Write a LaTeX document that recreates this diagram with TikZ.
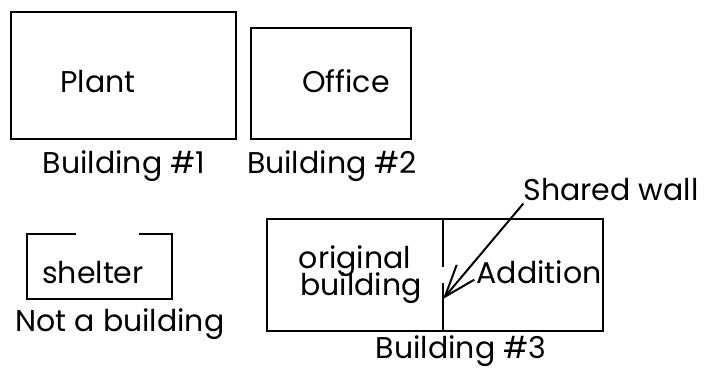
\documentclass[tikz,border=0pt]{standalone}
\usepackage{fontspec}
\setmainfont{Poppins}
\usetikzlibrary{arrows.meta}
\tikzset{
  wall/.style={line width=2.6pt},
  lbl/.style={font=\fontsize{30}{32}\selectfont, inner sep=0pt, anchor=base},
}
\begin{document}
\begin{tikzpicture}[x=1pt, y=-1pt]
  \useasboundingbox (0,0) rectangle (705,368);
  % building 1 and 2
  \draw [wall] (11,12) rectangle (236,139);
  \draw [wall] (251,28) rectangle (411,139);
  \node [lbl] (plant) at (98,92) {Plant};
  \node [lbl] (office) at (346,92) {Office};
  \node [lbl] (bldg1) at (124,173) {Building \#1};
  \node [lbl] (bldg2) at (332,173) {Building \#2};
  % shelter, open at the top
  \draw [wall] (76,234) -- (27,234) -- (27,299) -- (172,299) -- (172,234) -- (139,234);
  \node [lbl] (shelter) at (93,283) {shelter};
  \node [lbl] (notbldg) at (120,331) {Not a building};
  % building 3 with addition
  \draw [wall] (267,219) rectangle (603,331);
  \draw [wall] (443,219) -- (443,267);
  \draw [wall] (443,283) -- (443,331);
  \node [lbl] (orig) at (355,268) {original};
  \node [lbl] (origb) at (361,295) {building};
  \node [lbl] (addition) at (539,283) {Addition};
  \node [lbl] (bldg3) at (461,358) {Building \#3};
  \node [lbl] (shared) at (611,200) {Shared wall};
  \coordinate (tip) at (443,299);
  \draw [line width=2pt, -{Straight Barb[length=32pt, width=23pt, line width=2pt]}]
    (shared.south west) ++(0,3) -- (tip);
\end{tikzpicture}
\end{document}
